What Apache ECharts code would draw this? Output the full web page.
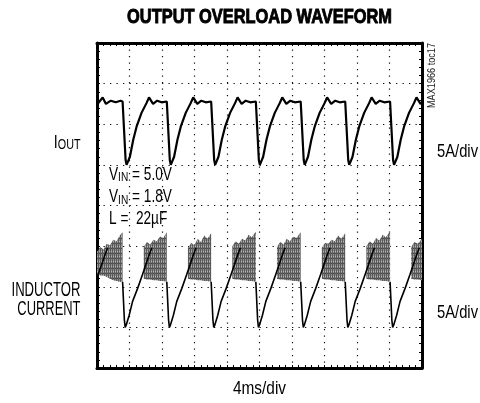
<!DOCTYPE html>
<html>
<head>
<meta charset="utf-8">
<script src="https://cdn.jsdelivr.net/npm/echarts@6/dist/echarts.min.js"></script>
<style>
html,body{margin:0;padding:0;background:#fff;}
#chart{width:480px;height:403px;}
</style>
</head>
<body>
<div id="chart"></div>
<script>
// ---- axis divisions ----
const timeTicks = [0, 4, 8, 12, 16, 20, 24, 28, 32, 36, 40];   // ms (4ms/div)
const ampTicks = [0, 5, 10, 15, 20, 25, 30, 35, 40];            // A (5A/div)

// ---- I_OUT trace [ms, A(screen offset)] ----
const ioutTrace = [
  [0,32.4],[0.7,33.3],[1.1,32.5],[1.7,32.9],[2.3,32.7],[2.9,32.9],
  [3.15,32.8],[3.52,25.6],[3.64,25.0],[3.77,25.3],[4.05,26.0],[4.46,28.1],[4.87,29.7],[5.48,31.4],[6.09,32.6],[6.40,33.3],[6.90,32.5],[7.40,32.9],[7.95,32.7],
  [8.59,32.8],[8.96,25.6],[9.08,25.0],[9.21,25.3],[9.49,26.0],[9.90,28.1],[10.31,29.7],[10.92,31.4],[11.53,32.6],[11.84,33.3],[12.34,32.5],[12.84,32.9],[13.39,32.7],
  [14.05,32.8],[14.42,25.6],[14.54,25.0],[14.67,25.3],[14.95,26.0],[15.36,28.1],[15.77,29.7],[16.38,31.4],[16.99,32.6],[17.30,33.3],[17.80,32.5],[18.30,32.9],[18.85,32.7],
  [19.55,32.8],[19.92,25.6],[20.04,25.0],[20.17,25.3],[20.45,26.0],[20.86,28.1],[21.27,29.7],[21.88,31.4],[22.49,32.6],[22.80,33.3],[23.30,32.5],[23.80,32.9],[24.35,32.7],
  [25.07,32.8],[25.44,25.6],[25.56,25.0],[25.69,25.3],[25.97,26.0],[26.38,28.1],[26.79,29.7],[27.40,31.4],[28.01,32.6],[28.32,33.3],[28.82,32.5],[29.32,32.9],[29.87,32.7],
  [30.55,32.8],[30.92,25.6],[31.04,25.0],[31.17,25.3],[31.45,26.0],[31.86,28.1],[32.27,29.7],[32.88,31.4],[33.49,32.6],[33.80,33.3],[34.30,32.5],[34.80,32.9],[35.35,32.7],
  [36.07,32.8],[36.44,25.6],[36.56,25.0],[36.69,25.3],[36.97,26.0],[37.38,28.1],[37.79,29.7],[38.40,31.4],[39.01,32.6],[39.32,33.3],[39.82,32.5],[40,32.7]
];

// ---- inductor current: discharge / recovery ramps [ms, A] ('-' = gap) ----
const inductorRamps = [
  [0,11.1],[0.57,12.7],[0.97,13.9],[1.31,14.8],[1.32,'-'],
  [3.15,10.6],[3.37,5.9],[3.47,5.0],[3.60,5.3],[3.96,6.5],[4.38,8.2],[5.00,9.8],[5.60,11.5],[6.01,12.7],[6.41,13.9],[6.75,14.8],[6.76,'-'],
  [8.59,10.6],[8.81,5.9],[8.91,5.0],[9.04,5.3],[9.40,6.5],[9.82,8.2],[10.44,9.8],[11.04,11.5],[11.45,12.7],[11.85,13.9],[12.19,14.8],[12.20,'-'],
  [14.05,10.6],[14.27,5.9],[14.37,5.0],[14.50,5.3],[14.86,6.5],[15.28,8.2],[15.90,9.8],[16.50,11.5],[16.91,12.7],[17.31,13.9],[17.65,14.8],[17.66,'-'],
  [19.55,10.6],[19.77,5.9],[19.87,5.0],[20.00,5.3],[20.36,6.5],[20.78,8.2],[21.40,9.8],[22.00,11.5],[22.41,12.7],[22.81,13.9],[23.15,14.8],[23.16,'-'],
  [25.07,10.6],[25.29,5.9],[25.39,5.0],[25.52,5.3],[25.88,6.5],[26.30,8.2],[26.92,9.8],[27.52,11.5],[27.93,12.7],[28.33,13.9],[28.67,14.8],[28.68,'-'],
  [30.55,10.6],[30.77,5.9],[30.87,5.0],[31.00,5.3],[31.36,6.5],[31.78,8.2],[32.40,9.8],[33.00,11.5],[33.41,12.7],[33.81,13.9],[34.15,14.8],[34.16,'-'],
  [36.07,10.6],[36.29,5.9],[36.39,5.0],[36.52,5.3],[36.88,6.5],[37.30,8.2],[37.92,9.8],[38.52,11.5],[38.93,12.7],[39.33,13.9],[39.67,14.8],[39.68,'-']
];

// ---- inductor switching-ripple envelopes [ms, low A, high A] ----
const rippleBand0 = [[0,11.5,14.3],[0.4,11.4,14.9],[0.8,11.4,14.6],[1.2,11.2,15.3],[1.6,11.0,15.1],[2.0,10.8,15.8],[2.4,10.7,15.6],[2.8,10.6,16.3],[3.15,10.6,16.7]];
const rippleBand1 = [[5.75,11.0,14.9],[6.15,10.9,15.5],[6.55,10.9,15.2],[6.95,10.8,15.8],[7.35,10.8,15.6],[7.75,10.7,16.2],[8.15,10.7,16.0],[8.59,10.6,16.7]];
const rippleBand2 = [[11.19,11.0,14.8],[11.59,10.9,15.4],[11.99,10.9,15.1],[12.39,10.8,15.9],[12.79,10.8,15.5],[13.19,10.7,16.3],[13.59,10.7,15.9],[14.05,10.6,16.6]];
const rippleBand3 = [[16.65,11.0,15.0],[17.05,10.9,15.6],[17.45,10.9,15.3],[17.85,10.8,15.9],[18.25,10.8,15.7],[18.65,10.7,16.4],[19.05,10.7,16.1],[19.55,10.6,16.8]];
const rippleBand4 = [[22.15,11.0,14.9],[22.55,10.9,15.5],[22.95,10.9,15.2],[23.35,10.8,15.9],[23.75,10.8,15.6],[24.15,10.7,16.2],[24.55,10.7,16.0],[25.07,10.6,16.7]];
const rippleBand5 = [[27.67,11.0,14.8],[28.07,10.9,15.4],[28.47,10.9,15.3],[28.87,10.8,15.8],[29.27,10.8,15.6],[29.67,10.7,16.3],[30.07,10.7,15.9],[30.55,10.6,16.6]];
const rippleBand6 = [[33.15,11.0,15.0],[33.55,10.9,15.6],[33.95,10.9,15.3],[34.35,10.8,16.0],[34.75,10.8,15.7],[35.15,10.7,16.4],[35.55,10.7,16.1],[36.07,10.6,16.8]];
const rippleBand7 = [[38.67,11.0,14.9],[39.07,10.9,15.5],[39.47,10.9,15.3],[40,10.8,15.9]];
const rippleBands = [rippleBand0, rippleBand1, rippleBand2, rippleBand3, rippleBand4, rippleBand5, rippleBand6, rippleBand7];

// ---- texts ----
const titleText = 'OUTPUT OVERLOAD WAVEFORM';
const xScaleText = '4ms/div';
const yScaleText = '5A/div';
const noteLines = [['V', 'IN', ' = 5.0V'], ['V', 'IN', ' = 1.8V'], ['L =  22µF', '', '']];
const partText = 'MAX1966 toc17';

// fine texture imitating the scope's dense switching ripple
const pc = document.createElement('canvas');
pc.width = 2; pc.height = 5;
const pctx = pc.getContext('2d');
pctx.fillStyle = '#8c8c8c'; pctx.fillRect(0, 0, 2, 5);
pctx.fillStyle = '#5a5a5a'; pctx.fillRect(0, 0, 1, 5);
pctx.fillStyle = '#b4b4b4'; pctx.fillRect(1, 1, 1, 1);
pctx.fillStyle = '#4a4a4a'; pctx.fillRect(1, 3, 1, 1);
const stripe = { image: pc, repeat: 'repeat' };

const FONT = '"Liberation Sans", Arial, sans-serif';

function axisCommon(pos, isX) {
  return {
    type: 'value',
    position: pos,
    min: isX ? timeTicks[0] : ampTicks[0],
    max: isX ? timeTicks[timeTicks.length - 1] : ampTicks[ampTicks.length - 1],
    interval: isX ? 4 : 5,
    axisLine: { show: true, onZero: false, lineStyle: { color: '#000', width: 3 } },
    axisTick: { show: true, inside: true, length: 3, lineStyle: { color: '#000', width: 1 } },
    minorTick: { show: true, splitNumber: 5, length: 3, lineStyle: { color: '#000', width: 1 } },
    axisLabel: { show: false },
    splitLine: { show: false }
  };
}

const xBottom = axisCommon('bottom', true);
xBottom.splitLine = { show: true, lineStyle: { color: '#111', width: 1.2, type: [1.3, 5.2] } };
const yLeft = axisCommon('left', false);
yLeft.splitLine = { show: true, lineStyle: { color: '#111', width: 1.2, type: [1.3, 5.2] } };

function plain(x, y, text, size, sx, align, extra) {
  return Object.assign({
    type: 'text', x: x, y: y, scaleX: sx, z: 100,
    style: { text: text, font: size + 'px ' + FONT, fill: '#000', align: align, verticalAlign: 'middle' }
  }, extra || {});
}

const graphics = [];
graphics.push({
  type: 'text', x: 259.5, y: 17, scaleX: 0.82, z: 100,
  style: { text: titleText, font: 'bold 20px ' + FONT, fill: '#000', stroke: '#000', lineWidth: 0.9, align: 'center', verticalAlign: 'middle' }
});
// I_OUT
graphics.push({
  type: 'text', x: 80.5, y: 141, scaleX: 0.77, z: 100,
  style: {
    text: '{m|I}{s|OUT}', align: 'right', verticalAlign: 'middle', fill: '#000',
    rich: {
      m: { fontFamily: FONT, fontSize: 18.5, lineHeight: 22, verticalAlign: 'bottom', fill: '#000' },
      s: { fontFamily: FONT, fontSize: 14, lineHeight: 13.4, verticalAlign: 'bottom', fill: '#000' }
    }
  }
});
graphics.push(plain(80.5, 290, 'INDUCTOR', 20.5, 0.64, 'right'));
graphics.push(plain(80.5, 309.5, 'CURRENT', 20.5, 0.63, 'right'));
graphics.push(plain(437, 152, yScaleText, 18, 0.82, 'left'));
graphics.push(plain(437, 313.5, yScaleText, 18, 0.82, 'left'));
graphics.push(plain(259.5, 389, xScaleText, 18, 0.855, 'center'));
graphics.push({
  type: 'text', x: 432, y: 75.5, rotation: Math.PI / 2, scaleX: 0.83, z: 100,
  style: { text: partText, font: '11px ' + FONT, fill: '#222', align: 'center', verticalAlign: 'middle' }
});
const noteY = [174, 196.5, 218];
noteLines.forEach(function (ln, i) {
  const parts = ln[1] ? '{m|' + ln[0] + '}{s|' + ln[1] + '}{m|' + ln[2] + '}' : '{m|' + ln[0] + '}';
  graphics.push({
    type: 'text', x: 109, y: noteY[i], scaleX: 0.78, z: 100,
    style: {
      text: parts, align: 'left', verticalAlign: 'middle', fill: '#000',
      rich: {
        m: { fontFamily: FONT, fontSize: 17.5, lineHeight: 20, verticalAlign: 'bottom', fill: '#000' },
        s: { fontFamily: FONT, fontSize: 13, lineHeight: 14.6, verticalAlign: 'bottom', fill: '#000' }
      }
    }
  });
});

const chart = echarts.init(document.getElementById('chart'), null, { renderer: 'canvas' });
chart.setOption({
  animation: false,
  backgroundColor: '#fff',
  grid: { left: 97, right: 58, top: 43, bottom: 35, containLabel: false },
  xAxis: [xBottom, axisCommon('top', true)],
  yAxis: [yLeft, axisCommon('right', false)],
  graphic: graphics,
  series: [
    {
      type: 'custom',
      name: 'ripple',
      xAxisIndex: 0, yAxisIndex: 0,
      data: rippleBands.map(function (b, i) { return [b[0][0], b[b.length - 1][0], i]; }),
      encode: { x: [0, 1] },
      renderItem: function (params, api) {
        const b = rippleBands[api.value(2)];
        const top = b.map(function (p) { return api.coord([p[0], p[2]]); });
        const bot = b.slice().reverse().map(function (p) { return api.coord([p[0], p[1]]); });
        return { type: 'polygon', shape: { points: top.concat(bot) }, style: { fill: stripe, stroke: null } };
      },
      silent: true
    },
    {
      type: 'line', name: 'INDUCTOR CURRENT', data: inductorRamps,
      showSymbol: false, connectNulls: false,
      lineStyle: { color: '#000', width: 1.6 }, silent: true
    },
    {
      type: 'line', name: 'IOUT', data: ioutTrace,
      showSymbol: false,
      lineStyle: { color: '#000', width: 2.2 }, silent: true
    }
  ]
});
</script>
</body>
</html>
